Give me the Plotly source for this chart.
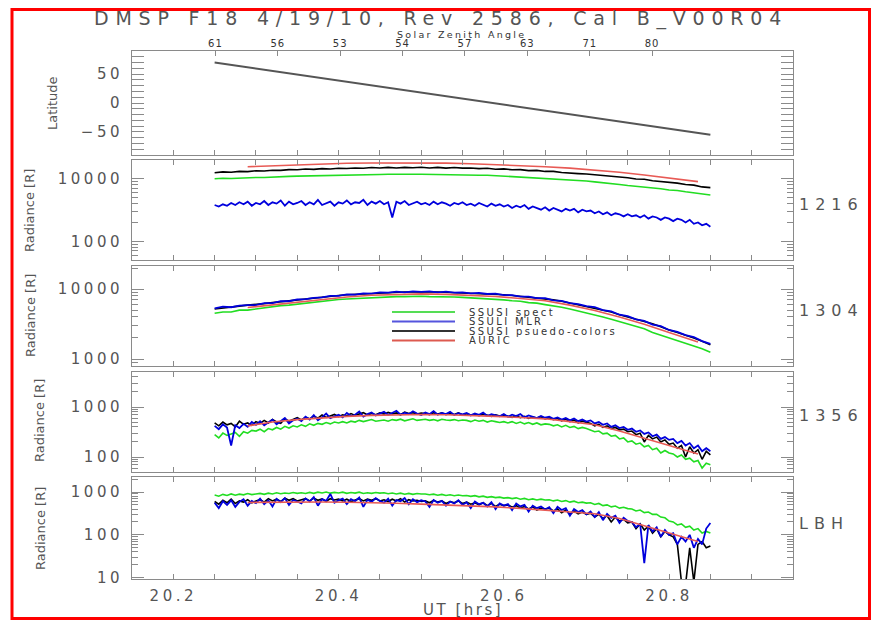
import plotly.graph_objects as go

# ---------------- data ----------------
UT_A = [20.25, 20.26, 20.27, 20.28, 20.29, 20.30, 20.31, 20.32, 20.33, 20.34,
        20.35, 20.36, 20.37, 20.38, 20.39, 20.40, 20.41, 20.42, 20.43, 20.44,
        20.45, 20.46, 20.47, 20.48, 20.49, 20.50, 20.51, 20.52, 20.53, 20.54,
        20.55, 20.56, 20.57, 20.58, 20.59, 20.60, 20.61, 20.62, 20.63, 20.64,
        20.65, 20.66, 20.67, 20.68, 20.69, 20.70, 20.71, 20.72, 20.73, 20.74,
        20.75, 20.76, 20.77, 20.78, 20.79, 20.80, 20.81, 20.82, 20.83, 20.84,
        20.85]

UT_B = [20.250, 20.255, 20.260, 20.265, 20.270, 20.275, 20.280, 20.285, 20.290, 20.295,
        20.300, 20.305, 20.310, 20.315, 20.320, 20.325, 20.330, 20.335, 20.340, 20.345,
        20.350, 20.355, 20.360, 20.365, 20.370, 20.375, 20.380, 20.385, 20.390, 20.395,
        20.400, 20.405, 20.410, 20.415, 20.420, 20.425, 20.430, 20.435, 20.440, 20.445,
        20.450, 20.455, 20.460, 20.465, 20.470, 20.475, 20.480, 20.485, 20.490, 20.495,
        20.500, 20.505, 20.510, 20.515, 20.520, 20.525, 20.530, 20.535, 20.540, 20.545,
        20.550, 20.555, 20.560, 20.565, 20.570, 20.575, 20.580, 20.585, 20.590, 20.595,
        20.600, 20.605, 20.610, 20.615, 20.620, 20.625, 20.630, 20.635, 20.640, 20.645,
        20.650, 20.655, 20.660, 20.665, 20.670, 20.675, 20.680, 20.685, 20.690, 20.695,
        20.700, 20.705, 20.710, 20.715, 20.720, 20.725, 20.730, 20.735, 20.740, 20.745,
        20.750, 20.755, 20.760, 20.765, 20.770, 20.775, 20.780, 20.785, 20.790, 20.795,
        20.800, 20.805, 20.810, 20.815, 20.820, 20.825, 20.830, 20.835, 20.840, 20.845,
        20.850]

AURIC_UT = [20.29, 20.32, 20.35, 20.38, 20.41, 20.44, 20.47, 20.50, 20.53, 20.56,
            20.59, 20.62, 20.65, 20.68, 20.71, 20.74, 20.77, 20.80, 20.835]

LAT_UT = [20.25, 20.35, 20.45, 20.55, 20.65, 20.75, 20.85]
LATITUDE = [70, 49, 28, 8, -13, -34, -55]

# ---- 1216 ----
SPECT_1216 = [10000, 10200, 10100, 10300, 10400, 10500, 10500, 10700, 10800, 10900,
              11000, 11100, 11000, 11300, 11300, 11400, 11400, 11600, 11500, 11700,
              11700, 11800, 11700, 11900, 11800, 11800, 11700, 11800, 11600, 11700,
              11600, 11500, 11400, 11400, 11200, 11000, 10900, 10800, 10600, 10400,
              10200, 10000, 9900, 9600, 9400, 9200, 8900, 8700, 8300, 8100,
              7800, 7600, 7400, 7200, 6900, 6600, 6500, 6200, 6000, 5700,
              5500]
PSEUDO_1216 = [12500, 12900, 12700, 13100, 13000, 13400, 13300, 13700, 13600, 14000,
               13900, 14300, 14100, 14500, 14300, 14700, 14600, 14900, 14700, 15100,
               14900, 15200, 14900, 15200, 15000, 15300, 14900, 15200, 14800, 15100,
               14800, 14900, 14500, 14700, 14200, 14400, 13900, 14000, 13500, 13600,
               13100, 13100, 12600, 12500, 12100, 11900, 11600, 11100, 11000, 10500,
               10400, 9900, 9800, 9300, 9100, 8700, 8500, 8100, 7900, 7400,
               7200]
MLR_1216 = [3800, 3600, 3900, 3700, 4100, 3800, 4200, 3900, 4300, 3700, 4100,
            3900, 4400, 3800, 4200, 4000, 4500, 3700, 4300, 3900, 4100,
            4400, 3800, 4200, 3900, 4600, 3800, 4100, 4300, 3700, 4200,
            4000, 4500, 3900, 4200, 4100, 4600, 3800, 4300, 4000, 4400,
            3900, 4200, 2400, 4300, 4000, 4400, 3800, 4100, 4300, 3900,
            4100, 3800, 4300, 3900, 4200, 4000, 3700, 4100, 3900, 4200,
            3800, 4000, 3700, 4100, 3800, 3600, 4000, 3700, 3900, 3600,
            3800, 3400, 3700, 3500, 3800, 3300, 3600, 3400, 3200, 3500,
            3100, 3400, 3200, 3000, 3300, 3100, 3300, 2900, 3200, 3000,
            3100, 2800, 3000, 2700, 2900, 2600, 2800, 2700, 2500, 2700,
            2500, 2600, 2400, 2600, 2300, 2500, 2400, 2200, 2400, 2300,
            2100, 2300, 2200, 2000, 2200, 1900, 2000, 1800, 1900, 1700]
AURIC_1216 = [15600, 16200, 16800, 17300, 17700, 17900, 18000, 18000, 17800, 17400,
              16900, 16300, 15600, 14800, 13800, 12700, 11500, 10300, 9000]

# ---- 1304 ----
SPECT_1304 = [4500, 4700, 4700, 5000, 5000, 5200, 5400, 5500, 5800, 5900,
              6100, 6300, 6400, 6700, 6800, 7100, 7200, 7300, 7500, 7500,
              7700, 7700, 7800, 7800, 7900, 7900, 7800, 7800, 7700, 7700,
              7600, 7500, 7400, 7300, 7200, 7000, 6800, 6700, 6400, 6300,
              6000, 5800, 5500, 5200, 4900, 4600, 4300, 4000, 3700, 3400,
              3200, 2900, 2700, 2400, 2200, 2000, 1850, 1700, 1550, 1400,
              1250]
PSEUDO_1304 = [5200, 5400, 5600, 5700, 5900, 6000, 6200, 6400, 6600, 6800,
               7000, 7300, 7400, 7700, 7900, 8100, 8300, 8400, 8600, 8700,
               8900, 9000, 9000, 9100, 9100, 9200, 9100, 9100, 9000, 8900,
               8900, 8800, 8600, 8500, 8400, 8300, 8100, 7900, 7700, 7500,
               7300, 7000, 6700, 6300, 6000, 5700, 5300, 5000, 4700, 4300,
               4000, 3700, 3400, 3200, 2900, 2600, 2400, 2200, 2000, 1800,
               1600]
MLR_1304 = [5300, 5600, 5500, 5800, 5900, 5900, 6300, 6300, 6700, 6700,
            7100, 7200, 7500, 7600, 8000, 8000, 8400, 8300, 8700, 8600,
            9000, 8900, 9200, 9000, 9300, 9100, 9300, 9000, 9200, 8900,
            9000, 8700, 8800, 8500, 8600, 8200, 8200, 7800, 7800, 7400,
            7400, 6900, 6800, 6300, 6100, 5700, 5500, 5000, 4800, 4300,
            4100, 3700, 3500, 3100, 2950, 2600, 2450, 2200, 2050, 1800,
            1650]
AURIC_1304 = [5450, 5950, 6500, 7100, 7700, 8150, 8400, 8550, 8400, 8200,
              7850, 7350, 6800, 5900, 4950, 4000, 3150, 2400, 1750]

# ---- 1356 ----
SPECT_1356 = [280, 240, 300, 270, 290, 310, 260, 320, 300, 340, 330,
              360, 320, 370, 350, 390, 360, 410, 380, 420, 400,
              440, 410, 460, 430, 470, 450, 490, 460, 500, 480,
              510, 480, 520, 500, 540, 510, 530, 560, 520, 540,
              550, 520, 560, 540, 570, 530, 560, 580, 540, 560,
              570, 540, 560, 530, 570, 550, 540, 560, 530, 550,
              540, 510, 550, 520, 540, 500, 530, 510, 490, 510,
              480, 510, 470, 500, 460, 490, 450, 480, 440, 460,
              450, 420, 440, 400, 430, 390, 410, 370, 390, 370,
              350, 320, 330, 290, 300, 260, 270, 230, 240, 200,
              210, 180, 190, 160, 170, 140, 150, 120, 135, 120,
              115, 100, 110, 90, 95, 80, 85, 60, 75, 70]
PSEUDO_1356 = [480, 420, 500, 440, 470, 400, 520, 450, 480, 430, 510,
               470, 540, 480, 560, 500, 470, 580, 520, 560, 610,
               550, 620, 580, 650, 600, 690, 620, 660, 710, 640,
               700, 660, 740, 680, 720, 770, 690, 740, 700, 760,
               720, 780, 730, 760, 700, 790, 740, 770, 720, 760,
               740, 700, 770, 720, 760, 700, 740, 710, 760, 690,
               730, 690, 710, 670, 720, 680, 650, 700, 660, 690,
               650, 620, 670, 610, 650, 590, 630, 600, 640, 580,
               610, 560, 590, 530, 570, 510, 550, 480, 520, 490,
               470, 420, 450, 390, 420, 370, 390, 350, 360, 320,
               330, 280, 300, 200, 270, 230, 250, 200, 220, 180,
               190, 150, 170, 100, 160, 120, 140, 90, 130, 110]
MLR_1356 = [420, 360, 450, 390, 170, 430, 380, 460, 400, 500, 440,
            520, 430, 490, 560, 450, 520, 600, 470, 540, 580,
            520, 640, 560, 690, 540, 620, 740, 600, 660, 700,
            620, 760, 660, 700, 810, 640, 720, 780, 680, 740,
            800, 690, 760, 840, 700, 770, 720, 820, 740, 690,
            780, 720, 830, 700, 760, 720, 800, 690, 750, 710,
            760, 680, 740, 700, 770, 660, 720, 690, 650, 720,
            640, 700, 660, 720, 620, 680, 640, 600, 660, 610,
            640, 580, 620, 560, 600, 540, 590, 520, 560, 510,
            540, 470, 500, 440, 470, 400, 430, 380, 400, 350,
            370, 320, 340, 290, 310, 260, 280, 230, 250, 220,
            230, 190, 210, 170, 190, 150, 170, 130, 150, 130]
AURIC_1356 = [420, 500, 560, 610, 650, 680, 700, 710, 700, 685,
              650, 615, 580, 510, 440, 330, 240, 170, 115]

# ---- LBH ----
SPECT_LBH = [850, 800, 880, 830, 900, 840, 890, 860, 920, 870, 900,
             930, 880, 940, 900, 960, 910, 950, 920, 970, 930,
             960, 920, 980, 930, 990, 950, 1000, 940, 980, 950,
             990, 930, 970, 940, 990, 920, 960, 930, 970, 940,
             960, 910, 950, 900, 940, 890, 930, 880, 920, 900,
             900, 860, 890, 840, 880, 830, 860, 820, 850, 820,
             830, 790, 820, 770, 800, 750, 780, 740, 760, 720,
             740, 700, 730, 680, 710, 660, 690, 650, 680, 650,
             660, 620, 650, 600, 630, 580, 610, 560, 580, 550,
             560, 510, 540, 480, 500, 450, 470, 420, 440, 410,
             400, 360, 380, 330, 340, 300, 300, 260, 250, 210,
             200, 170, 180, 150, 160, 130, 140, 110, 120, 110]
PSEUDO_LBH = [600, 520, 640, 560, 680, 540, 620, 580, 660, 560, 620,
              660, 580, 700, 620, 680, 600, 720, 640, 700, 620,
              660, 700, 620, 720, 640, 690, 600, 700, 650, 680,
              620, 680, 600, 660, 700, 620, 680, 640, 700, 620,
              660, 600, 680, 620, 700, 580, 660, 620, 640, 600,
              620, 560, 640, 580, 620, 540, 600, 560, 620, 540,
              580, 520, 560, 500, 560, 480, 540, 460, 520, 480,
              500, 440, 480, 420, 460, 400, 450, 380, 420, 400,
              420, 360, 400, 330, 380, 300, 360, 310, 340, 300,
              320, 260, 300, 240, 280, 200, 260, 210, 230, 190,
              200, 140, 180, 130, 160, 110, 140, 90, 120, 100,
              90, 60, 8, 7, 50, 8, 60, 70, 50, 55]
MLR_LBH = [560, 420, 610, 500, 640, 450, 590, 680, 480, 620, 550,
           700, 520, 640, 460, 690, 580, 720, 500, 650, 600,
           540, 710, 600, 760, 480, 680, 620, 900, 560, 640,
           700, 520, 680, 610, 740, 450, 660, 590, 720, 620,
           560, 700, 480, 650, 610, 720, 520, 680, 580, 640,
           600, 450, 650, 560, 620, 480, 600, 540, 640, 500,
           580, 420, 600, 520, 560, 460, 580, 400, 540, 480,
           520, 380, 540, 460, 500, 350, 480, 420, 460, 390,
           440, 320, 450, 380, 420, 280, 400, 340, 380, 300,
           350, 260, 340, 220, 310, 250, 280, 190, 250, 210,
           200, 150, 180, 22, 170, 120, 150, 90, 130, 100,
           110, 60, 90, 70, 100, 50, 80, 60, 140, 190]
AURIC_LBH = [570, 580, 590, 585, 575, 565, 545, 520, 500, 475,
             450, 415, 380, 345, 310, 240, 160, 110, 70]

# ---- axis ticks / labels ----
SZA_UT = [20.251, 20.3265, 20.402, 20.4775, 20.553, 20.6285, 20.704, 20.7795]
SZA_LABELS = ["61", "56", "53", "54", "57", "63", "71", "80"]
X_TICKS = [20.2, 20.4, 20.6, 20.8]
X_LABELS = ["20.2", "20.4", "20.6", "20.8"]
LAT_TICKS = [-50, 0, 50]
LAT_LABELS = ["\u221250", "0", "50"]
LAT_MINOR = [-90, -80, -70, -60, -40, -30, -20, -10, 10, 20, 30, 40, 60, 70, 80, 90]
BANDS = ["1216", "1304", "1356", "LBH"]
SERIES_NAMES = ["SSUSI spect", "SSULI MLR", "SSUSI psuedo-colors", "AURIC"]

LOG_MAJOR = [[1000, 10000], [1000, 10000], [100, 1000], [10, 100, 1000]]
LOG_LABELS = [["1000", "10000"], ["1000", "10000"], ["100", "1000"], ["10", "100", "1000"]]
LOG_MINOR = [
    [600, 700, 800, 900, 2000, 3000, 4000, 5000, 6000, 7000, 8000, 9000, 20000],
    [800, 900, 2000, 3000, 4000, 5000, 6000, 7000, 8000, 9000, 20000],
    [50, 60, 70, 80, 90, 200, 300, 400, 500, 600, 700, 800, 900, 2000, 3000, 4000, 5000],
    [20, 30, 40, 50, 60, 70, 80, 90, 200, 300, 400, 500, 600, 700, 800, 900, 2000],
]
LOG_RANGES = [[2.7, 4.3], [2.9, 4.33], [1.7, 3.7], [0.97, 3.35]]

# ---------------- styling ----------------
GREEN = "#22dd22"
BLUE = "#0000dd"
BLACK = "#000000"
RED = "#e85a55"
AXC = "#8a8a8a"
TXT = "#555555"
FONT = "DejaVu Sans"

# the page body adds an 8px margin on every side; the figure is sized so the
# page fits the 882x630 window without scrollbars
OFF = 8
W, H = 864, 612
ML, MT = 132 - OFF, 51 - OFF
MR = W - (793 - OFF)
MB = H - (579 - OFF)
PW, PH = W - ML - MR, H - MT - MB


def px_x(x):  # x in window pixels -> paper
    return (x - OFF - ML) / PW


def px_y(y):  # y in window pixels -> paper
    return (H - MB - (y - OFF)) / PH


def sp(s, ls):
    return f'<span style="letter-spacing:{ls}px">{s}</span>'


DOMAINS = [[px_y(155), 1.0], [px_y(260), px_y(160)], [px_y(366), px_y(266)],
           [px_y(472), px_y(372)], [0.0, px_y(477)]]

fig = go.Figure()


def add(x, y, color, width, xa, ya, opacity=1.0):
    fig.add_trace(go.Scatter(x=x, y=y, mode="lines", opacity=opacity,
                             line=dict(color=color, width=width),
                             xaxis=xa, yaxis=ya,
                             showlegend=False, hoverinfo="skip"))


add(LAT_UT, LATITUDE, "#555555", 2, "x", "y")
# helper (invisible) trace so the top solar-zenith-angle axis is drawn
add(LAT_UT, LATITUDE, "#555555", 0.1, "x6", "y", opacity=0)

panels = [
    (SPECT_1216, PSEUDO_1216, MLR_1216, AURIC_1216, UT_A, UT_A, UT_B),
    (SPECT_1304, PSEUDO_1304, MLR_1304, AURIC_1304, UT_A, UT_A, UT_A),
    (SPECT_1356, PSEUDO_1356, MLR_1356, AURIC_1356, UT_B, UT_B, UT_B),
    (SPECT_LBH, PSEUDO_LBH, MLR_LBH, AURIC_LBH, UT_B, UT_B, UT_B),
]
for i, (sg, sb, sm, sa, xg, xb, xm) in enumerate(panels):
    k = str(i + 2)
    add(xg, sg, GREEN, 1.6, "x" + k, "y" + k)
    add(xb, sb, BLACK, 1.6, "x" + k, "y" + k)
    add(xm, sm, BLUE, 1.8, "x" + k, "y" + k)
    add(AURIC_UT, sa, RED, 1.6, "x" + k, "y" + k)

tickfont = dict(family=FONT, size=15, color=TXT)
layout = dict(
    width=W, height=H,
    margin=dict(l=ML, r=MR, t=MT, b=MB),
    paper_bgcolor="white", plot_bgcolor="white",
    showlegend=False, hovermode=False,
)

for k in range(1, 6):
    sfx = "" if k == 1 else str(k)
    xa = dict(
        domain=[0, 1], anchor="y" + sfx, range=[20.15, 20.95],
        showline=True, linecolor=AXC, linewidth=1,
        mirror=True if k == 1 else "allticks",
        ticks="inside", ticklen=5, tickcolor=AXC,
        tickmode="array", tickvals=X_TICKS,
        ticktext=[sp(t, 3.5) for t in X_LABELS],
        minor=dict(tickmode="linear", tick0=20.2, dtick=0.05, ticks="inside",
                   ticklen=5, tickcolor=AXC, showgrid=False),
        showticklabels=(k == 5), tickfont=tickfont, ticklabelstandoff=3,
        showgrid=False, zeroline=False,
    )
    if k > 1:
        xa["matches"] = "x"
    layout["xaxis" + sfx] = xa

    if k == 1:
        ya = dict(range=[-90, 90], tickmode="array", tickvals=LAT_TICKS,
                  ticktext=[sp(t, 3.5) for t in LAT_LABELS],
                  minor=dict(tickmode="array", tickvals=LAT_MINOR, ticks="inside",
                             ticklen=6, tickcolor=AXC, showgrid=False))
    else:
        j = k - 2
        ya = dict(type="log", range=LOG_RANGES[j], tickmode="array",
                  tickvals=LOG_MAJOR[j],
                  ticktext=[sp(t, 3.5) for t in LOG_LABELS[j]],
                  minor=dict(tickmode="array", tickvals=LOG_MINOR[j], ticks="inside",
                             ticklen=6, tickcolor=AXC, showgrid=False))
    ya.update(domain=DOMAINS[k - 1], anchor="x" + sfx,
              showline=True, linecolor=AXC, linewidth=1, mirror="allticks",
              ticks="inside", ticklen=12, tickcolor=AXC,
              tickfont=tickfont, ticklabelstandoff=5,
              showgrid=False, zeroline=False)
    layout["yaxis" + sfx] = ya

layout["xaxis6"] = dict(
    overlaying="x", anchor="y", side="top", range=[20.15, 20.95],
    tickmode="array", tickvals=SZA_UT, ticktext=[sp(t, 1) for t in SZA_LABELS],
    ticks="inside", ticklen=5, tickcolor=AXC, showline=False,
    tickfont=dict(family=FONT, size=10, color="#333333"), ticklabelstandoff=1,
    showgrid=False, zeroline=False,
)

ann = []
ann.append(dict(text=sp("DMSP F18 4/19/10, Rev 2586, Cal B_V00R04", 6.8),
                x=px_x(441), y=px_y(18.5), xref="paper", yref="paper",
                showarrow=False, xanchor="center", yanchor="middle",
                font=dict(family=FONT, size=19, color=TXT)))
ann.append(dict(text=sp("Solar Zenith Angle", 2.3),
                x=px_x(461), y=px_y(34.5), xref="paper", yref="paper",
                showarrow=False, xanchor="center", yanchor="middle",
                font=dict(family=FONT, size=9.5, color="#333333")))
ann.append(dict(text=sp("UT [hrs]", 2.5),
                x=px_x(463), y=px_y(610), xref="paper", yref="paper",
                showarrow=False, xanchor="center", yanchor="middle",
                font=dict(family=FONT, size=15, color=TXT)))

ytitles = [("Latitude", 52, 103), ("Radiance [R]", 30, 211), ("Radiance [R]", 30, 316),
           ("Radiance [R]", 40, 421), ("Radiance [R]", 40, 529)]
for t, xx, yy in ytitles:
    ann.append(dict(text=t, x=px_x(xx), y=px_y(yy), xref="paper", yref="paper",
                    showarrow=False, textangle=-90, xanchor="center", yanchor="middle",
                    font=dict(family=FONT, size=13, color=TXT)))

band_y = [205, 310, 415, 523]
for b, yy in zip(BANDS, band_y):
    ann.append(dict(text=sp(b, 6), x=px_x(797), y=px_y(yy), xref="paper", yref="paper",
                    showarrow=False, xanchor="left", yanchor="middle",
                    font=dict(family=FONT, size=16, color=TXT)))

shapes = []
leg_colors = ["#55dd55", "#5555dd", "#333333", "#dd5a50"]
leg_y = [312, 321.5, 331, 340.5]
for name, c, yy in zip(SERIES_NAMES, leg_colors, leg_y):
    shapes.append(dict(type="line", xref="paper", yref="paper",
                       x0=px_x(392), x1=px_x(455), y0=px_y(yy), y1=px_y(yy),
                       line=dict(color=c, width=2)))
    ann.append(dict(text=sp(name, 2.4), x=px_x(467), y=px_y(yy), xref="paper", yref="paper",
                    showarrow=False, xanchor="left", yanchor="middle",
                    font=dict(family=FONT, size=10, color="#333333")))

shapes.append(dict(type="rect", xref="paper", yref="paper",
                   x0=px_x(12), x1=px_x(869.5), y0=px_y(618.5), y1=px_y(9.5),
                   line=dict(color="#ff0000", width=3)))

layout["annotations"] = ann
layout["shapes"] = shapes
fig.update_layout(**layout)
fig.write_html("out.html")
